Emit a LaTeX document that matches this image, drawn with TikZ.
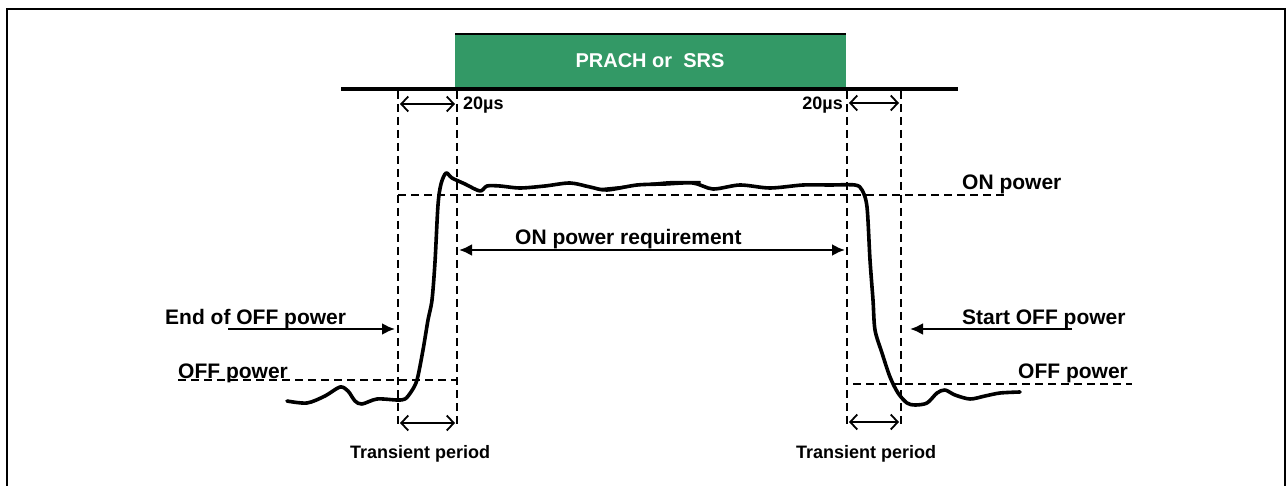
\documentclass[tikz,border=0pt]{standalone}
\usepackage{fontspec}
\setmainfont{Liberation Sans}
\usetikzlibrary{arrows.meta}
\definecolor{prachgreen}{RGB}{51,153,102}
\tikzset{
  lbl/.style={font=\bfseries\fontsize{21}{24}\selectfont, inner sep=0pt},
  slbl/.style={font=\bfseries\fontsize{18}{21}\selectfont, inner sep=0pt},
  dsh/.style={line width=1.8pt, dash pattern=on 8pt off 5pt},
  harr/.style={line width=2.5pt, -{Latex[length=13pt,width=12pt]}},
  darr/.style={line width=1.8pt, {Straight Barb[length=7pt,width=15pt]}-{Straight Barb[length=7pt,width=15pt]}},
  trace/.style={line width=3.6pt, line join=round, line cap=round}
}
\begin{document}
\begin{tikzpicture}[x=1pt,y=-1pt]
\useasboundingbox (0,0) rectangle (1288,486);
% frame
\draw[line width=2pt] (7,486) -- (7,9) -- (1285,9) -- (1285,486);
% green block
\fill[prachgreen] (455,34) rectangle (846,88);
\draw[line width=2pt] (455,34) -- (846,34);
\node[font=\bfseries\fontsize{20}{24}\selectfont, text=white, inner sep=0pt] (prach) at (650,61) {PRACH or\ \ SRS};
% baseline
\coordinate (bl1) at (341,89);
\coordinate (bl2) at (958,89);
\draw[line width=4pt] (bl1) -- (bl2);
% vertical dashed lines
\coordinate (v1t) at (398,91); \coordinate (v1b) at (398,428);
\coordinate (v2t) at (457,91); \coordinate (v2b) at (457,428);
\coordinate (v3t) at (847,91); \coordinate (v3b) at (847,428);
\coordinate (v4t) at (901,91); \coordinate (v4b) at (901,428);
\draw[dsh] (v1t) -- (v1b);
\draw[dsh] (v2t) -- (v2b);
\draw[dsh] (v3t) -- (v3b);
\draw[dsh] (v4t) -- (v4b);
% horizontal dashed lines
\coordinate (on1) at (398,195); \coordinate (on2) at (1005,195);
\draw[dsh] (on1) -- (on2);
\coordinate (offl1) at (178,380); \coordinate (offl2) at (457,380);
\draw[dsh] (offl1) -- (offl2);
\coordinate (offr1) at (853,384); \coordinate (offr2) at (1132,384);
\draw[dsh] (offr1) -- (offr2);
% 20us arrows
\coordinate (ta1) at (400,104); \coordinate (ta2) at (455,104);
\draw[darr] (ta1) -- (ta2);
\coordinate (tb1) at (849,103); \coordinate (tb2) at (899,103);
\draw[darr] (tb1) -- (tb2);
\node[slbl, anchor=base west] (us1) at (463,110) {20µs};
\node[slbl, anchor=base east] (us2) at (843,110) {20µs};
% transient arrows
\coordinate (tr1) at (400,423); \coordinate (tr2) at (455,423);
\draw[darr] (tr1) -- (tr2);
\coordinate (tr3) at (849,422); \coordinate (tr4) at (899,422);
\draw[darr] (tr3) -- (tr4);
\node[slbl, anchor=base west] (trl) at (350,458) {Transient period};
\node[slbl, anchor=base west] (trr) at (796,458) {Transient period};
% ON power requirement
\coordinate (rq1) at (459,250); \coordinate (rq2) at (845,250);
\draw[harr, {Latex[length=13pt,width=12pt]}-{Latex[length=13pt,width=12pt]}] (rq1) -- (rq2);
\node[lbl, anchor=base west] (rql) at (515,245) {ON power requirement};
% labels
\node[lbl, anchor=base west] (onp) at (962,190) {ON power};
\node[lbl, anchor=base west] (eoff) at (165,325) {End of OFF power};
\coordinate (ea1) at (228,329); \coordinate (ea2) at (395,329);
\draw[harr] (ea1) -- (ea2);
\node[lbl, anchor=base west] (soff) at (962,325) {Start OFF power};
\coordinate (sa1) at (1072,329); \coordinate (sa2) at (910,329);
\draw[harr] (sa1) -- (sa2);
\node[lbl, anchor=base west] (offl) at (178,378) {OFF power};
\node[lbl, anchor=base west] (offr) at (1018,378) {OFF power};
% power trace
\draw[trace] plot[smooth, tension=0.5] coordinates {
(287,401) (307,403) (325,396) (340,387) (348,391) (355,401) (362,404) (377,399) (397,400) (405,399)
(411,392) (417,380) (423,350) (428,320) (432,300) (435,262) (438,205) (441,184) (446,173)
(452,178) (465,184) (480,191) (487,186) (500,186) (520,188) (545,186) (570,183) (590,187) (607,190)
(637,185) (665,184) (693,183) (713,189) (740,185) (770,188) (803,185) (830,185) (855,185)
(862,190) (867,207) (870,260) (873,300) (875,330) (882,353) (890,377) (898,393) (907,403) (915,405)
(927,403) (937,393) (945,390) (955,395) (970,399) (985,396) (1000,393) (1020,392)};
\draw[line width=2pt, line cap=round] plot[smooth, tension=0.5] coordinates {(600,189) (640,185) (670,182) (700,182)};
\end{tikzpicture}
\end{document}
